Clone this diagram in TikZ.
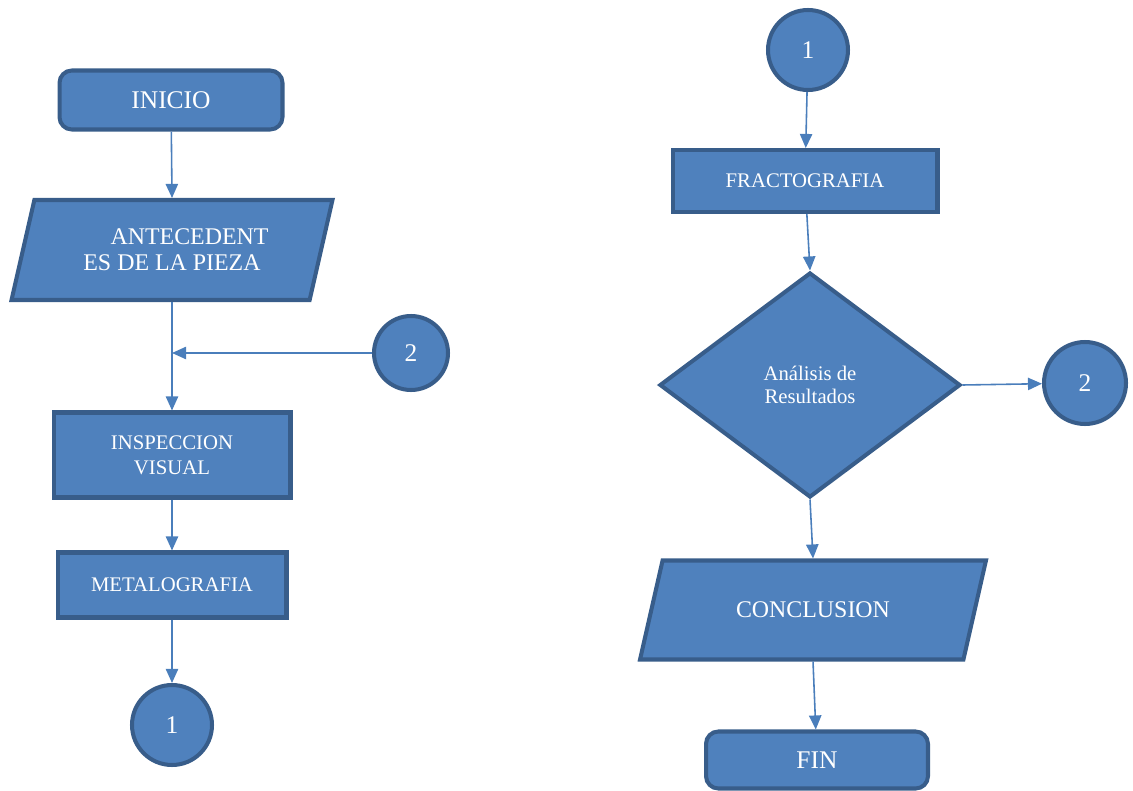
\documentclass[tikz,border=0pt]{standalone}
\usepackage{fontspec}
\setmainfont{Liberation Serif}
\usepackage{xcolor}
\usepackage{tikz}
\usetikzlibrary{arrows.meta,positioning,shapes.geometric,calc}

\definecolor{boxfill}{HTML}{4F81BD}
\definecolor{boxline}{HTML}{385D8A}
\definecolor{arrline}{HTML}{4A7EBB}

\begin{document}
\begin{tikzpicture}[
  x=0.02cm, y=-0.02cm,
  every node/.style={align=center, text=white},
  bigtxt/.style={font=\fontsize{14.5}{16}\selectfont},
  smalltxt/.style={font=\fontsize{11.8}{14}\selectfont},
  base/.style={draw=boxline, fill=boxfill, line width=2.3pt, inner sep=2pt},
  term/.style={base, bigtxt, rounded corners=7pt},
  proc/.style={base, smalltxt, rectangle},
  datain/.style={base, font=\fontsize{13.6}{16}\selectfont, trapezium,
                 trapezium stretches body=true,
                 trapezium left angle=76.5, trapezium right angle=103.5},
  decide/.style={base, diamond, font=\fontsize{11.8}{13}\selectfont,
                 minimum width=6.02cm, minimum height=4.5cm},
  link/.style={base, circle, bigtxt, minimum size=1.6cm},
  arr/.style={-{Triangle[length=8pt, width=7pt]}, arrline, line width=0.9pt},
]
\useasboundingbox (0,0) rectangle (1133,791);

%% --- Left column ---
\node[term, minimum width=4.46cm, minimum height=1.18cm] (ini) at (171,100) {INICIO};
\node[datain, inner ysep=15pt, minimum width=6.42cm, minimum height=2.0cm] (ant) at (172,250)
  {\hspace*{20pt}ANTECEDENT\\[-1pt]ES DE LA PIEZA};
\node[link, minimum size=1.48cm] (c2l) at (411,353) {2};
\node[proc, minimum width=4.74cm, minimum height=1.7cm] (insp) at (172,455)
  {INSPECCION\\VISUAL};
\node[proc, minimum width=4.58cm, minimum height=1.3cm] (meta) at (172,585) {METALOGRAFIA};
\node[link] (c1l) at (172,725) {1};

%% --- Right column ---
\node[link] (c1r) at (808,50) {1};
\node[proc, minimum width=5.3cm, minimum height=1.24cm] (frac) at (805,181) {FRACTOGRAFIA};
\node[decide] (dec) at (810,385) {An\'alisis de\\Resultados};
\node[link, minimum size=1.64cm] (c2r) at (1085,383) {2};
\node[datain, inner ysep=23pt, minimum width=6.92cm, minimum height=1.98cm,
      trapezium left angle=76.9, trapezium right angle=103.1] (conc) at (813,610) {CONCLUSION};
\node[term, minimum width=4.44cm, minimum height=1.14cm] (fin) at (817,760) {FIN};

%% --- Arrows: left column ---
\coordinate (join) at (ant.south |- c2l.west);
\draw[arr] (ini) -- (ant.north);
\draw[arr] (ant.south) -- (insp.north);
\draw[arr] (c2l.west) -- (join);
\draw[arr] (insp) -- (meta);
\draw[arr] (meta) -- (c1l);

%% --- Arrows: right column ---
\draw[arr] (c1r) -- (frac);
\draw[arr] (frac) -- (dec.north);
\draw[arr] (dec.east) -- (c2r);
\draw[arr] (dec.south) -- (conc.north);
\draw[arr] (conc.south) -- (fin);

\end{tikzpicture}
\end{document}
